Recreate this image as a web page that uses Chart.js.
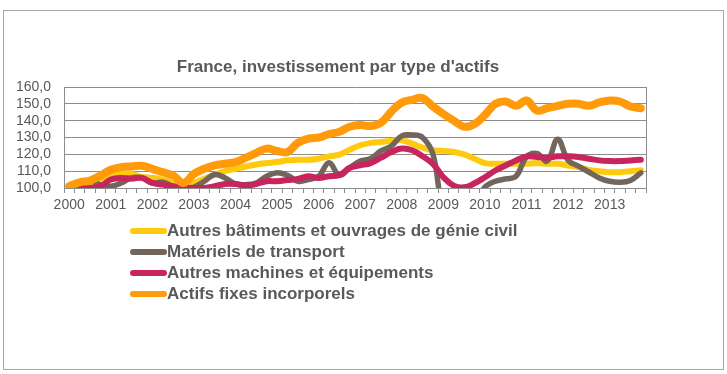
<!DOCTYPE html>
<html>
<head>
<meta charset="utf-8">
<script src="https://cdn.jsdelivr.net/npm/chart.js@4/dist/chart.umd.min.js"></script>
<style>
  body { margin: 0; background: #fff; font-family: 'Liberation Sans', Arial, sans-serif; }
  #frame { position: absolute; left: 3px; top: 10px; width: 719px; height: 358px; border: 1px solid #a6a6a6; }
  #wrap { position: absolute; left: 0; top: 0; width: 727px; height: 374px; }
  #title { position: absolute; left: 138px; width: 400px; top: 56px; height: 22px; line-height: 22px; text-align: center;
           font-size: 17px; font-weight: bold; color: #595959; white-space: nowrap; }
  #legend { position: absolute; left: 130px; top: 220px; }
  .row { height: 21px; line-height: 21px; font-size: 17px; font-weight: bold; color: #595959; white-space: nowrap; }
  .sw { display: inline-block; width: 37px; height: 6px; border-radius: 3px; vertical-align: middle; position: relative; top: -1px; }
</style>
</head>
<body>
<div id="frame"></div>
<div id="wrap"><canvas id="chart" width="727" height="374"></canvas></div>
<div id="title">France, investissement par type d'actifs</div>
<div id="legend"></div>
<script>
// Years shown on the axis (quarterly data, one label per year)
const years = ['2000','2001','2002','2003','2004','2005','2006','2007','2008','2009','2010','2011','2012','2013'];

const seriesNames = [
    'Autres bâtiments et ouvrages de génie civil',
    'Matériels de transport',
    'Autres machines et équipements',
    'Actifs fixes incorporels',
];

// Autres bâtiments et ouvrages de génie civil
const batiments = [
    100.5, 102, 103.5, 105.5, 107.5, 108.5, 108.5, 106.5,
    106, 105, 103, 101.5, 103, 105.5, 108, 110,
    111.4, 112.8, 114, 114.8, 115.4, 116.4, 116.8, 116.8,
    117.4, 118.8, 119.8, 122.8, 125.4, 126.8, 127.4, 128,
    128.4, 126.4, 124, 122.4, 122, 121.4, 120, 117.4,
    114.8, 114.4, 114.4, 114.4, 114.4, 114.8, 114.4, 114.4,
    113.4, 112.4, 110.8, 110, 109.4, 109.4, 110, 110.5,
];

// Matériels de transport
const transport = [
    100, 102, 104, 102, 101, 103, 106, 106,
    103, 103.5, 101, 100, 100.5, 104, 108, 106,
    102.5, 102, 103, 107, 109, 107.5, 104, 105,
    107, 115, 107.5, 112, 116, 117.5, 122, 125,
    131, 131.5, 130, 120, 88, 85, 85, 90,
    100.5, 104, 105.4, 107, 118.5, 120.5, 116, 129,
    116.5, 113, 109.5, 106, 104, 103.4, 104.5, 109,
];

// Autres machines et équipements
const machines = [
    100, 100, 100, 101, 105, 106, 105.5, 106,
    103, 102, 101, 100, 100, 100, 101, 102.4,
    102.4, 101.4, 102.4, 104, 104, 104.7, 105.4, 107,
    106, 107, 107.7, 112, 113.5, 114.8, 118, 121.4,
    123.4, 122.4, 118.8, 114.4, 106.4, 101.4, 100.4, 102.8,
    106.4, 110.4, 113.4, 116.4, 118.8, 118.4, 118, 118.8,
    118.8, 118.4, 117.4, 116.4, 116, 116, 116.4, 116.8,
];

// Actifs fixes incorporels
const incorporels = [
    101, 103.4, 104.4, 107.4, 110.8, 112.4, 112.8, 113.2,
    111.4, 109.4, 107.4, 103, 108.4, 111.4, 113.4, 114.4,
    115.4, 118, 120.8, 123.4, 122, 121.4, 126.8, 129.4,
    130, 132, 133.4, 136.4, 137.4, 136.8, 138.8, 145.4,
    150.8, 152.4, 153.4, 148.4, 144, 140, 136.4, 138,
    143.4, 150, 151.4, 148.8, 152, 146, 147.4, 148.8,
    150, 150, 148.8, 150.8, 152, 151.4, 148.4, 147.4,
];

const colors = ['#ffc90e', '#72665c', '#c8245e', '#ff9a0a'];
const widths = [6, 5.5, 6, 8];

// one category per quarter, label on the first quarter of each year
const labels = years.flatMap(y => [y, '', '', '']);

const seriesData = [batiments, transport, machines, incorporels];

const tickFont = { family: "'Liberation Sans', Arial, sans-serif", size: 14 };

// plot area outline on the right side
const plotBorder = {
    id: 'plotBorder',
    beforeDatasetsDraw(chart) {
        const a = chart.chartArea;
        const ctx = chart.ctx;
        ctx.save();
        ctx.strokeStyle = '#8c8c8c';
        ctx.lineWidth = 1;
        ctx.beginPath();
        ctx.moveTo(Math.round(a.right) + 0.5, a.top);
        ctx.lineTo(Math.round(a.right) + 0.5, a.bottom);
        ctx.stroke();
        ctx.restore();
    }
};

const ctx = document.getElementById('chart').getContext('2d');
const chart = new Chart(ctx, {
    type: 'line',
    data: {
        labels: labels,
        datasets: seriesData.map((d, i) => ({
            label: seriesNames[i],
            data: d,
            borderColor: colors[i],
            backgroundColor: colors[i],
            borderWidth: widths[i],
            pointRadius: 0,
            tension: 0.4,
            borderCapStyle: 'round',
            borderJoinStyle: 'round',
            fill: false,
            order: 4 - i,
            clip: { left: 4, right: 4, top: 4, bottom: 0 },
        })),
    },
    options: {
        responsive: false,
        devicePixelRatio: 1,
        animation: false,
        layout: {
            padding: { left: 8, right: 81, top: 87, bottom: 156 },
        },
        plugins: {
            legend: { display: false },
            tooltip: { enabled: false },
            title: { display: false },
        },
        scales: {
            x: {
                type: 'category',
                offset: true,
                grid: {
                    offset: true,
                    drawOnChartArea: false,
                    drawTicks: true,
                    tickLength: 5,
                    color: '#8c8c8c',
                },
                border: { display: true, color: '#8c8c8c' },
                ticks: {
                    autoSkip: false,
                    maxRotation: 0,
                    padding: 4,
                    color: '#595959',
                    font: tickFont,
                },
                afterFit(scale) { scale.height = 30; },
            },
            y: {
                min: 100,
                max: 160,
                ticks: {
                    stepSize: 10,
                    autoSkip: false,
                    padding: 13,
                    color: '#595959',
                    font: tickFont,
                    callback: v => v.toFixed(1).replace('.', ','),
                },
                grid: { color: '#8c8c8c', drawTicks: false },
                border: { display: true, color: '#8c8c8c' },
                afterFit(scale) { scale.width = 56; },
            },
        },
    },
    plugins: [plotBorder],
});

// Legend as a vertical list under the plot
const legend = document.getElementById('legend');
chart.data.datasets.forEach(ds => {
    const row = document.createElement('div');
    row.className = 'row';
    const sw = document.createElement('span');
    sw.className = 'sw';
    sw.style.background = ds.borderColor;
    row.appendChild(sw);
    row.appendChild(document.createTextNode(ds.label));
    legend.appendChild(row);
});
</script>
</body>
</html>
